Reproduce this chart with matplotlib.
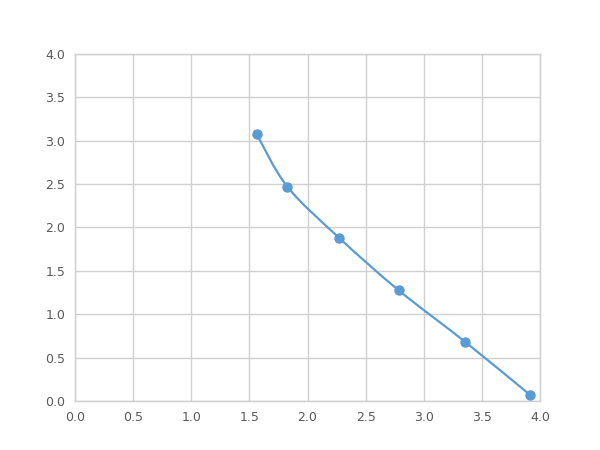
import matplotlib
matplotlib.use("Agg")
import matplotlib.pyplot as plt
from matplotlib.path import Path
from matplotlib.patches import PathPatch

x_vals = [1.562, 1.827, 2.273, 2.783, 3.357, 3.915]
y_vals = [3.078, 2.470, 1.879, 1.277, 0.680, 0.069]

LINE_COLOR = "#5b9bd5"
GRID_COLOR = "#d0d0d0"
TEXT_COLOR = "#595959"


def smooth_path(xs, ys, sx=1.0, sy=1.0):
    # Excel-style smoothed line: cubic Bezier through each point,
    # tangents worked out in (roughly) pixel space via sx/sy
    pts = [(x * sx, y * sy) for x, y in zip(xs, ys)]
    n = len(pts)
    verts = [pts[0]]
    codes = [Path.MOVETO]
    for i in range(n - 1):
        p0 = pts[i - 1] if i > 0 else pts[i]
        p1 = pts[i]
        p2 = pts[i + 1]
        p3 = pts[i + 2] if i + 2 < n else pts[i + 1]
        c1 = (p1[0] + (p2[0] - p0[0]) / 6, p1[1] + (p2[1] - p0[1]) / 6)
        c2 = (p2[0] - (p3[0] - p1[0]) / 6, p2[1] - (p3[1] - p1[1]) / 6)
        verts += [c1, c2, p2]
        codes += [Path.CURVE4] * 3
    verts = [(x / sx, y / sy) for x, y in verts]
    return Path(verts, codes)


fig = plt.figure(figsize=(6, 4.5), dpi=100)
ax = fig.add_axes([0.125, 0.109, 0.775, 0.771])

ax.add_patch(PathPatch(smooth_path(x_vals, y_vals, 116.25, 86.75), facecolor="none",
                       edgecolor=LINE_COLOR, linewidth=1.6, zorder=3))
ax.plot(x_vals, y_vals, linestyle="none", marker="o", markersize=6.5,
        color=LINE_COLOR, zorder=4)

ax.set_xlim(0, 4)
ax.set_ylim(0, 4)
ticks = [0.0, 0.5, 1.0, 1.5, 2.0, 2.5, 3.0, 3.5, 4.0]
ax.set_xticks(ticks)
ax.set_yticks(ticks)
ax.set_xticklabels([f"{t:.1f}" for t in ticks])
ax.set_yticklabels([f"{t:.1f}" for t in ticks])
ax.grid(True, color=GRID_COLOR, linewidth=1)
ax.set_axisbelow(True)
for s in ax.spines.values():
    s.set_color(GRID_COLOR)
    s.set_linewidth(1)
ax.tick_params(length=0, labelsize=9, colors=TEXT_COLOR, pad=7)

fig.savefig("out.png", dpi=100)
